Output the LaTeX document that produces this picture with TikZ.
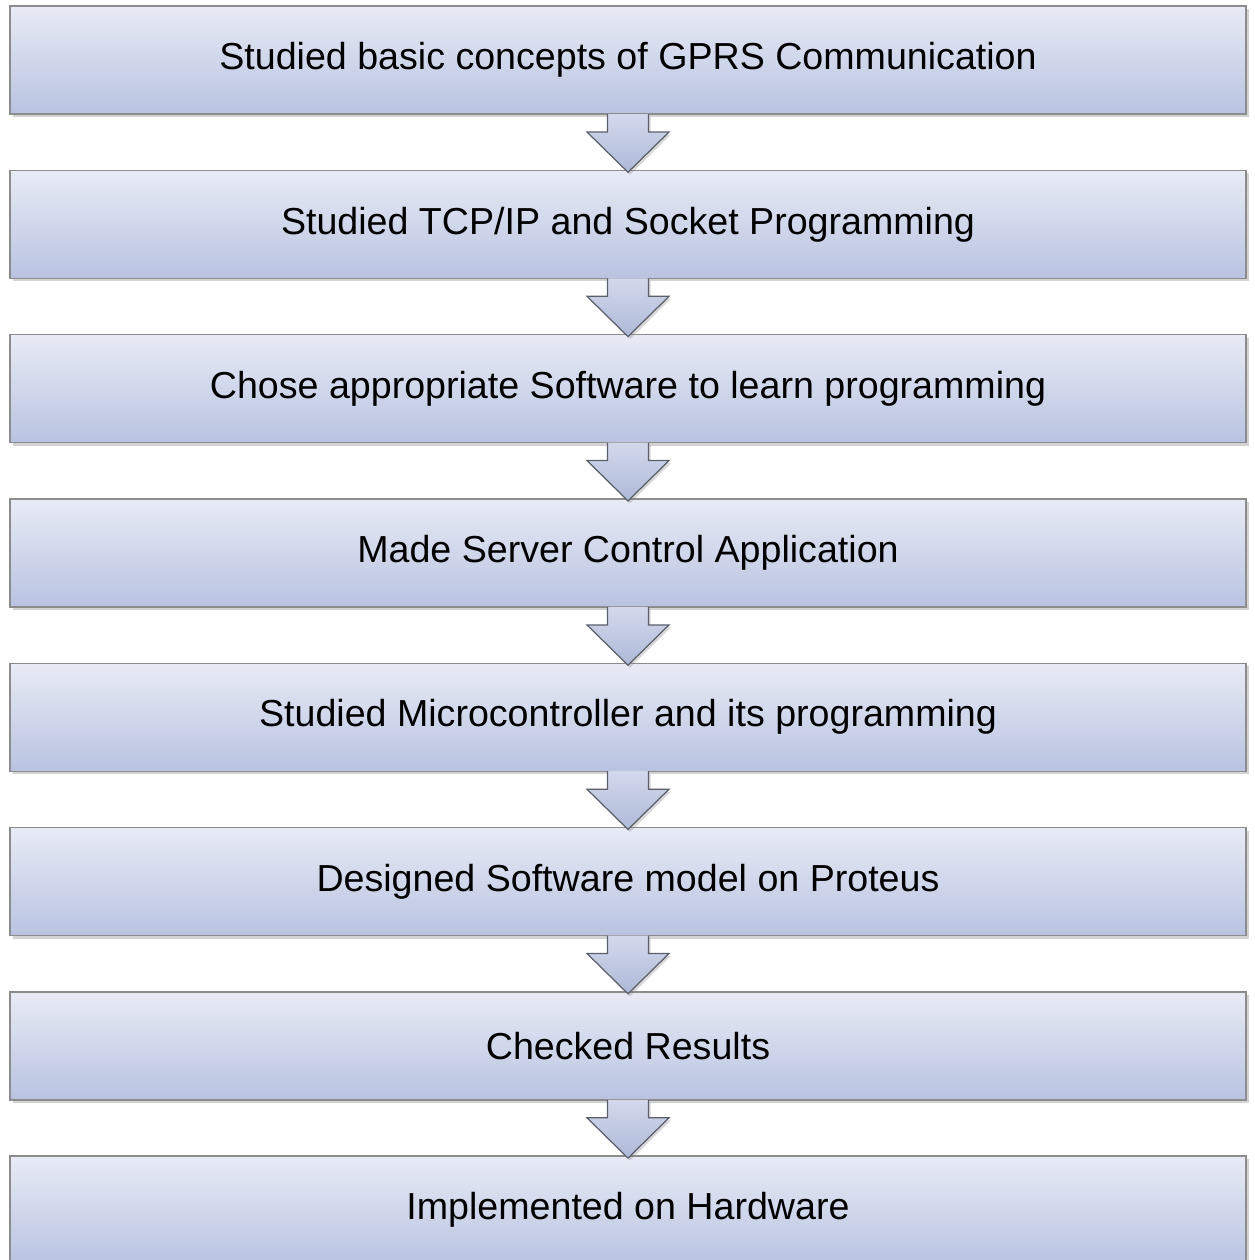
\documentclass[tikz,border=0pt]{standalone}
\usepackage{fontspec}
\setmainfont{Liberation Sans}
\usepackage{tikz}
\usetikzlibrary{positioning,calc,shadows}
\usepackage{xcolor}
\definecolor{boxtop}{HTML}{E8EBF5}
\definecolor{boxbot}{HTML}{B9C3E1}
\definecolor{boxline}{HTML}{8C8C8C}
\definecolor{arrtop}{HTML}{D3D9EC}
\definecolor{arrbot}{HTML}{AEB9D8}
\definecolor{arrline}{HTML}{5A5F6A}

\begin{document}
\begin{tikzpicture}[
  every node/.style={font=\fontsize{21.4}{25}\selectfont},
  box/.style={rectangle, draw=boxline, line width=0.8pt, top color=boxtop,
              bottom color=boxbot, minimum width=24.72cm, minimum height=2.16cm,
              outer sep=0pt, align=center,
              drop shadow={shadow xshift=0.06cm, shadow yshift=-0.06cm, opacity=0.35}},
  flow/.style={draw=arrline, line width=0.7pt, top color=arrtop, bottom color=arrbot,
               drop shadow={shadow xshift=0.04cm, shadow yshift=-0.05cm, opacity=0.3}},
]
\clip (0,0) rectangle (25.08,-25.2);

\node[box] (A) at (12.56,-1.2) {Studied basic concepts of GPRS Communication};
\node[box, below=1.126cm of A] (B) {Studied TCP/IP and Socket Programming};
\node[box, below=1.126cm of B] (C) {Chose appropriate Software to learn programming};
\node[box, below=1.126cm of C] (D) {Made Server Control Application};
\node[box, below=1.126cm of D] (E) {Studied Microcontroller and its programming};
\node[box, below=1.126cm of E] (F) {Designed Software model on Proteus};
\node[box, below=1.126cm of F] (G) {Checked Results};
\node[box, below=1.126cm of G] (H) {Implemented on Hardware};

% block arrows between the steps
\foreach \a/\b in {A/B,B/C,C/D,D/E,E/F,F/G,G/H}
  \path[flow] ($(\a.south)+(-0.41,0)$) -- ($(\a.south)+(-0.41,-0.36)$)
    -- ($(\a.south)+(-0.82,-0.36)$) -- ($(\b.north)+(0,-0.04)$)
    -- ($(\a.south)+(0.82,-0.36)$) -- ($(\a.south)+(0.41,-0.36)$)
    -- ($(\a.south)+(0.41,0)$);

\end{tikzpicture}
\end{document}
